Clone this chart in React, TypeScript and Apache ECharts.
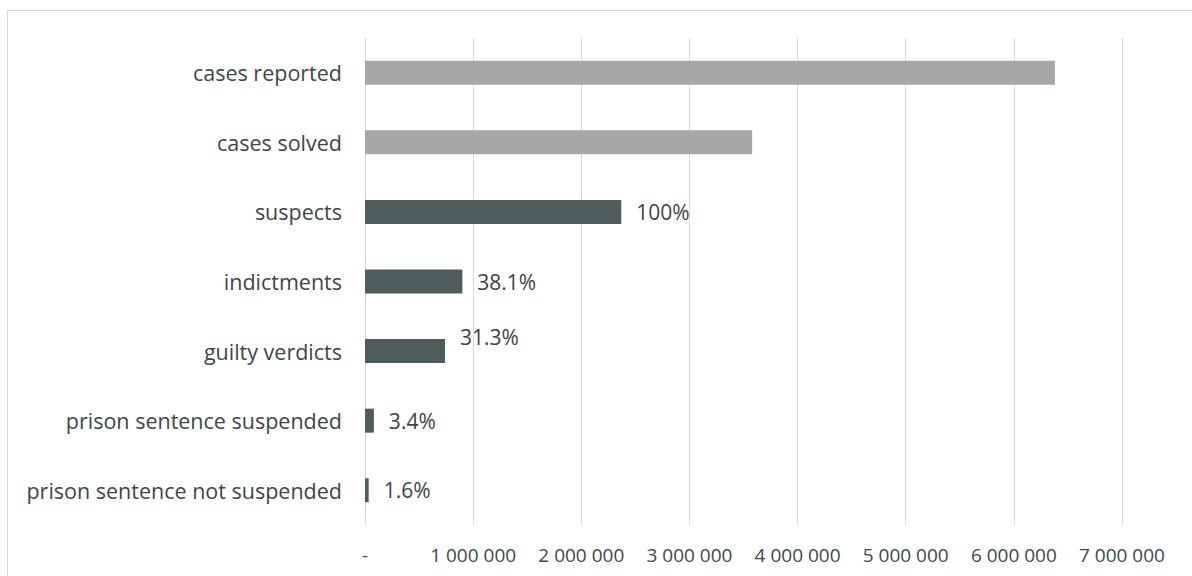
import React, { useEffect, useRef } from "react";
import * as echarts from "echarts";

const categories = [
  "cases reported",
  "cases solved",
  "suspects",
  "indictments",
  "guilty verdicts",
  "prison sentence suspended",
  "prison sentence not suspended",
];
const values = [6380000, 3580000, 2370000, 900000, 740000, 82000, 34000];
const shareLabels = ["", "", "100%", "38.1%", "31.3%", "3.4%", "1.6%"];
const isFunnel = [false, false, true, true, true, true, true];
const labelLift = [0, 0, 0, 0, -14, 0, 0];

const LIGHT = "#a6a8a8";
const DARK = "#4f5c5c";

function fmtTick(v: number): string {
  if (v === 0) return "-";
  return String(v).replace(/\B(?=(\d{3})+(?!\d))/g, " ");
}

export default function App() {
  const ref = useRef<HTMLDivElement>(null);
  useEffect(() => {
    if (!ref.current) return;
    const chart = echarts.init(ref.current, undefined, { renderer: "svg" });
    const font = "'Open Sans', 'Noto Sans', sans-serif";
    chart.setOption({
      animation: false,
      backgroundColor: "#ffffff",
      textStyle: { fontFamily: font },
      grid: { left: 365, right: 70, top: 38, bottom: 51 },
      graphic: [
        {
          type: "rect",
          shape: { x: 7.5, y: 10.5, width: 1200, height: 600 },
          style: { fill: "none", stroke: "#d9d9d9", lineWidth: 1 },
          silent: true,
        },
      ],
      xAxis: {
        type: "value",
        min: 0,
        max: 7000000,
        interval: 1000000,
        axisLine: { show: false },
        axisTick: { show: false },
        splitLine: { show: true, lineStyle: { color: "#d9d9d9", width: 1 } },
        axisLabel: {
          formatter: (v: number) => fmtTick(v),
          color: "#404848",
          fontSize: 19,
          margin: 20,
          fontFamily: font,
        },
      },
      yAxis: {
        type: "category",
        data: categories,
        inverse: true,
        axisLine: { show: true, lineStyle: { color: "#d9d9d9", width: 1 } },
        axisTick: { show: false },
        axisLabel: {
          color: "#3d4747",
          fontSize: 21.5,
          margin: 23,
          fontFamily: font,
        },
      },
      series: [
        {
          type: "bar",
          barWidth: 24,
          data: values.map((v, i) => ({
            value: v,
            itemStyle: { color: isFunnel[i] ? DARK : LIGHT },
            label: {
              show: shareLabels[i] !== "",
              formatter: shareLabels[i],
              position: "right",
              distance: 15,
              offset: [0, labelLift[i]],
              color: "#3d4444",
              fontSize: 21,
              fontFamily: font,
            },
          })),
        },
      ],
    });
    return () => chart.dispose();
  }, []);
  return (
    <div
      ref={ref}
      style={{ position: "fixed", left: 0, top: 0, width: 1192, height: 576 }}
    />
  );
}
